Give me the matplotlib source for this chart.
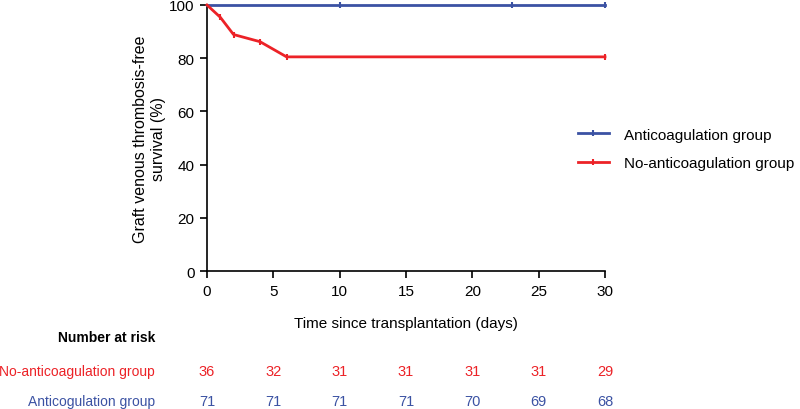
import numpy as np
import matplotlib
matplotlib.use("Agg")
import matplotlib.pyplot as plt
from matplotlib.lines import Line2D

plt.rcParams['font.family'] = ['Liberation Sans', 'DejaVu Sans']

# survival curves (piecewise, as drawn)
anti_t = [0, 30]
anti_s = [100, 100]
anti_cens_t = [10, 23, 30]
anti_cens_s = [100, 100, 100]

no_t = [0, 1, 2, 4, 6, 30]
no_s = [100, 95.4, 88.9, 86.2, 80.5, 80.5]
no_cens_t = [1, 2, 4, 6, 30]
no_cens_s = [95.4, 88.9, 86.2, 80.5, 80.5]

risk_times = [0, 5, 10, 15, 20, 25, 30]
risk_no = [36, 32, 31, 31, 31, 31, 29]
risk_anti = [71, 71, 71, 71, 70, 69, 68]

blue = '#3b52a3'
red = '#ec2227'

fig = plt.figure(figsize=(8, 4.1), dpi=100)
ax = fig.add_axes([207 / 800, 1 - 272 / 410, 398 / 800, 266 / 410])

ax.plot(anti_t, anti_s, color=blue, lw=2, clip_on=False, zorder=3)
ax.plot(anti_cens_t, anti_cens_s, ls='none', marker='|', ms=5, mew=1.5,
        color=blue, clip_on=False, zorder=3)
ax.plot(no_t, no_s, color=red, lw=2, clip_on=False, zorder=3)
ax.plot(no_cens_t, no_cens_s, ls='none', marker='|', ms=5, mew=1.5,
        color=red, clip_on=False, zorder=3)

ax.set_xlim(0, 30)
ax.set_ylim(0, 100)
ax.set_xticks(risk_times)
ax.set_yticks([0, 20, 40, 60, 80, 100])
ax.spines['top'].set_visible(False)
ax.spines['right'].set_visible(False)
ax.spines['left'].set_linewidth(1.2)
ax.spines['bottom'].set_linewidth(1.2)
ax.tick_params(direction='out', length=5, width=1.2, labelsize=11, pad=4)
ax.set_xlabel('Time since transplantation (days)', fontsize=11, labelpad=13)
ax.set_ylabel('Graft venous thrombosis-free\nsurvival (%)', fontsize=11.5,
              labelpad=2, linespacing=1.3)

handles = [Line2D([0], [0], color=blue, lw=2, marker='|', ms=5, mew=1.5),
           Line2D([0], [0], color=red, lw=2, marker='|', ms=5, mew=1.5)]
fig.legend(handles, ['Anticoagulation group', 'No-anticoagulation group'],
           loc='center left', bbox_to_anchor=(578 / 800, 1 - 150 / 410),
           frameon=False, fontsize=11, handlelength=2.0,
           handletextpad=1.0, labelspacing=0.95, borderpad=0,
           borderaxespad=0)

# number at risk table
fig.text(155 / 800, 1 - 338 / 410, 'Number at risk', ha='right', va='center',
         fontsize=10, fontweight='bold')
fig.text(155 / 800, 1 - 372 / 410, 'No-anticoagulation group', ha='right',
         va='center', fontsize=10, color=red)
fig.text(155 / 800, 1 - 402 / 410, 'Anticogulation group', ha='right',
         va='center', fontsize=10, color=blue)
for t, a, b in zip(risk_times, risk_no, risk_anti):
    xf = fig.transFigure.inverted().transform(ax.transData.transform((t, 0)))[0]
    fig.text(xf, 1 - 372 / 410, str(a), ha='center', va='center',
             fontsize=10.5, color=red)
    fig.text(xf, 1 - 402 / 410, str(b), ha='center', va='center',
             fontsize=10.5, color=blue)

fig.savefig('out.png', dpi=100)
